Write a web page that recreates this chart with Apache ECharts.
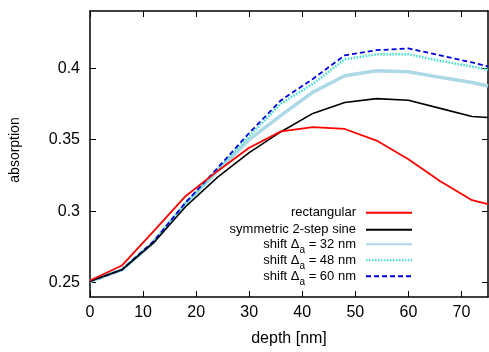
<!DOCTYPE html>
<html>
<head>
<meta charset="utf-8">
<script src="https://cdn.jsdelivr.net/npm/echarts@6/dist/echarts.min.js"></script>
<style>
html,body{margin:0;padding:0;background:#fff;}
#c{width:489px;height:352px;}
</style>
</head>
<body>
<div id="c"></div>
<script>
var depth = [0, 6, 12, 18, 24, 30, 36, 42, 48, 54, 60, 66, 72, 75];
var rectangular = [0.2515, 0.262, 0.286, 0.3105, 0.328, 0.3444, 0.3558, 0.3588, 0.3575, 0.3494, 0.3363, 0.321, 0.3077, 0.305];
var sine2step = [0.251, 0.259, 0.278, 0.3031, 0.3237, 0.341, 0.3556, 0.3684, 0.376, 0.3787, 0.3776, 0.3719, 0.3662, 0.3655];
var shift32 = [0.251, 0.259, 0.2785, 0.305, 0.328, 0.350, 0.367, 0.3833, 0.3947, 0.3982, 0.3975, 0.3936, 0.390, 0.3875];
var shift48 = [0.251, 0.259, 0.2785, 0.3055, 0.329, 0.3525, 0.3753, 0.389, 0.4062, 0.4097, 0.4097, 0.4051, 0.4012, 0.3989];
var shift60 = [0.251, 0.259, 0.279, 0.306, 0.330, 0.3547, 0.3776, 0.3925, 0.409, 0.4126, 0.4138, 0.409, 0.404, 0.4012];
var xTicks = [0, 10, 20, 30, 40, 50, 60, 70];
var yTicks = [0.25, 0.3, 0.35, 0.4];
var names = ['rectangular', 'symmetric 2-step sine', 'shift Δa = 32 nm', 'shift Δa = 48 nm', 'shift Δa = 60 nm'];

function pairs(ys) { return depth.map(function (x, i) { return [x, ys[i]]; }); }

var FONT = '"Liberation Sans", Arial, Helvetica, sans-serif';
var chart = echarts.init(document.getElementById('c'), null, {renderer: 'canvas'});

function axisLine() { return {show: true, onZero: false, lineStyle: {color: '#000', width: 1.5}}; }

var legendCenters = [213.3, 230.3, 246.7, 262.7, 278.7];
var legends = names.map(function (n, i) {
  var hasSub = n.indexOf('Δa') >= 0;
  var h = hasSub ? 18 : 14;
  return {
    data: [n],
    right: 76,
    top: legendCenters[i] - h / 2,
    orient: 'vertical',
    align: 'right',
    padding: 0,
    itemWidth: 46,
    itemHeight: 14,
    selectedMode: false,
    itemStyle: {opacity: 0},
    formatter: function (name) {
      return name.replace('Δa', 'Δ{sub|a}');
    },
    textStyle: {
      fontFamily: FONT, fontSize: 13, color: '#000', padding: [0, 5, 0, 0],
      rich: {sub: {fontFamily: FONT, fontSize: 10, lineHeight: 10, verticalAlign: 'top', padding: [8, 0, 0, 0], color: '#000'}}
    }
  };
});

var option = {
  animation: false,
  backgroundColor: '#fff',
  grid: {left: 89, right: 1, top: 11, bottom: 51, containLabel: false},
  legend: legends,
  xAxis: [{
    type: 'value', min: 0, max: 75, position: 'bottom',
    name: 'depth [nm]', nameLocation: 'middle', nameGap: 34,
    nameTextStyle: {fontFamily: FONT, fontSize: 16, color: '#000'},
    axisLine: axisLine(),
    axisTick: {show: true, inside: true, length: 6, lineStyle: {color: '#000', width: 1}, customValues: xTicks},
    axisLabel: {show: true, margin: 8, fontFamily: FONT, fontSize: 16, color: '#000', customValues: xTicks, showMinLabel: true, showMaxLabel: true, hideOverlap: false},
    splitLine: {show: false}
  }, {
    type: 'value', min: 0, max: 75, position: 'top',
    axisLine: axisLine(),
    axisTick: {show: true, inside: true, length: 6, lineStyle: {color: '#000', width: 1}, customValues: xTicks},
    axisLabel: {show: false},
    splitLine: {show: false}
  }],
  yAxis: [{
    type: 'value', min: 0.24, max: 0.44, position: 'left',
    name: 'absorption', nameLocation: 'middle', nameGap: 68,
    nameTextStyle: {fontFamily: FONT, fontSize: 14, color: '#000', padding: [0, 0, 0, 8]},
    axisLine: axisLine(),
    axisTick: {show: true, inside: true, length: 6, lineStyle: {color: '#000', width: 1}, customValues: yTicks},
    axisLabel: {show: true, margin: 10, fontFamily: FONT, fontSize: 16, color: '#000', customValues: yTicks,
      formatter: function (v) { return String(+v.toFixed(2)); }},
    splitLine: {show: false}
  }, {
    type: 'value', min: 0.24, max: 0.44, position: 'right',
    axisLine: axisLine(),
    axisTick: {show: true, inside: true, length: 6, lineStyle: {color: '#000', width: 1}, customValues: yTicks},
    axisLabel: {show: false},
    splitLine: {show: false}
  }],
  series: [
    {name: names[0], type: 'line', data: pairs(rectangular), symbol: 'none', showSymbol: false,
      lineStyle: {color: '#ff0000', width: 1.8}, itemStyle: {color: '#ff0000'}, z: 6},
    {name: names[1], type: 'line', data: pairs(sine2step), symbol: 'none', showSymbol: false,
      lineStyle: {color: '#000000', width: 1.6}, itemStyle: {color: '#000000'}, z: 5},
    {name: names[2], type: 'line', data: pairs(shift32), symbol: 'none', showSymbol: false,
      lineStyle: {color: '#add8e6', width: 3.5}, itemStyle: {color: '#add8e6'}, z: 2},
    {name: names[3], type: 'line', data: pairs(shift48), symbol: 'none', showSymbol: false,
      lineStyle: {color: '#40e0d0', width: 2.5, type: [1.5, 1.5]}, itemStyle: {color: '#40e0d0'}, z: 3},
    {name: names[4], type: 'line', data: pairs(shift60), symbol: 'none', showSymbol: false,
      lineStyle: {color: '#0000dd', width: 1.8, type: [5, 3]}, itemStyle: {color: '#0000dd'}, z: 4}
  ]
};
chart.setOption(option);
</script>
</body>
</html>
